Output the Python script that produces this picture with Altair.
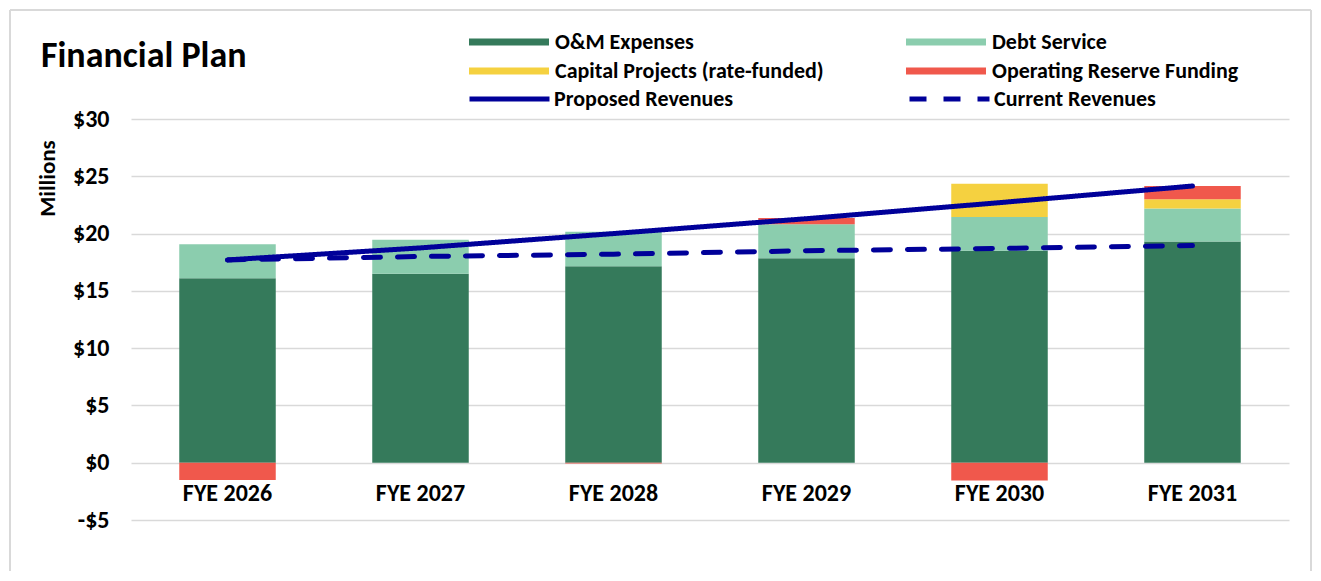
import altair as alt
import pandas as pd

years = ["FYE 2026", "FYE 2027", "FYE 2028", "FYE 2029", "FYE 2030", "FYE 2031"]
om_expenses = [16.1, 16.5, 17.15, 17.85, 18.5, 19.3]
debt_service = [2.97, 2.95, 3.0, 2.97, 2.95, 2.88]
capital_projects = [0.0, 0.0, 0.0, 0.0, 2.9, 0.82]
reserve_funding = [-1.5, 0.0, -0.06, 0.55, -1.55, 1.15]
proposed_revenues = [17.7, 18.75, 20.0, 21.3, 22.7, 24.15]
current_revenues = [17.7, 18.0, 18.2, 18.5, 18.7, 18.95]

components = ["O&M Expenses", "Debt Service", "Capital Projects (rate-funded)", "Operating Reserve Funding"]
component_colors = ["#357A5B", "#8BCDAE", "#F5D140", "#F0584C"]
series_names = ["Proposed Revenues", "Current Revenues"]

FONT = "Carlito, Lato, sans-serif"
NAVY = "#000099"
GRID = "#D9D9D9"

rows = []
for comp_i, (comp, vals) in enumerate(zip(components, [om_expenses, debt_service, capital_projects, reserve_funding])):
    for y, v in zip(years, vals):
        rows.append({"FYE": y, "Component": comp, "Value": v, "ord": comp_i})
bar_df = pd.DataFrame(rows)

lrows = []
for s, vals in zip(series_names, [proposed_revenues, current_revenues]):
    for y, v in zip(years, vals):
        lrows.append({"FYE": y, "Series": s, "Value": v})
line_df = pd.DataFrame(lrows)

W, H = 1158, 401
zero_from_bottom = H * 5 / 35

x_enc = alt.X(
    "FYE:N", sort=years,
    scale=alt.Scale(paddingInner=0.5, paddingOuter=0.25),
    axis=alt.Axis(title=None, labelAngle=0, domain=False, ticks=False, tickSize=0,
                  offset=-zero_from_bottom, labelPadding=31, labelBaseline="middle",
                  labelFont=FONT, labelFontSize=24, labelFontWeight="bold", labelColor="#000000"),
)
y_scale = alt.Scale(domain=[-5, 30], nice=False)

bars = alt.Chart(bar_df).mark_bar().encode(
    x=x_enc,
    y=alt.Y("Value:Q", stack="zero", scale=y_scale,
            axis=alt.Axis(values=list(range(-5, 31, 5)),
                          labelExpr="datum.value < 0 ? '-$' + abs(datum.value) : '$' + datum.value",
                          title="Millions", titleFont=FONT, titleFontSize=23, titleFontWeight="bold",
                          titleColor="#000000", titleAngle=-90, titleX=-84, titleY=59,
                          titleAlign="center", titleBaseline="middle",
                          domain=False, ticks=False, tickSize=0, labelPadding=22,
                          labelFont=FONT, labelFontSize=24, labelFontWeight="bold", labelColor="#000000",
                          gridColor=GRID, gridWidth=1.5)),
    color=alt.Color("Component:N", scale=alt.Scale(domain=components, range=component_colors),
                    legend=alt.Legend(orient="none", legendX=338, legendY=-88, columns=2,
                                      direction="horizontal",
                                      columnPadding=82, rowPadding=7, title=None,
                                      symbolType="M-1,-0.09H1V0.09H-1Z", symbolSize=6400,
                                      symbolStrokeWidth=0, clipHeight=22, labelOffset=6,
                                      labelLimit=500,
                                      labelFont=FONT, labelFontSize=22, labelFontWeight="bold",
                                      labelColor="#000000")),
    order=alt.Order("ord:Q", sort="ascending"),
)

lines = alt.Chart(line_df).mark_line(color=NAVY, strokeWidth=5, strokeCap="round").encode(
    x=alt.X("FYE:N", sort=years),
    y=alt.Y("Value:Q", scale=y_scale),
    strokeDash=alt.StrokeDash("Series:N", scale=alt.Scale(domain=series_names, range=[[1, 0], [17, 17]]),
                              legend=alt.Legend(orient="none", legendX=336, legendY=-31, columns=2,
                                                direction="horizontal",
                                                columnPadding=173, title=None, symbolType="stroke",
                                                symbolSize=6400, symbolStrokeColor=NAVY,
                                                symbolStrokeWidth=5, clipHeight=22, labelOffset=2,
                                                labelLimit=500,
                                                labelFont=FONT, labelFontSize=22, labelFontWeight="bold",
                                                labelColor="#000000")),
)

one = alt.Data(values=[{"k": 1}])
title = alt.Chart(one).mark_text(text="Financial Plan", font=FONT, fontSize=36, fontWeight="bold",
                                 align="left", baseline="middle", color="#000000").encode(
    x=alt.value(-90), y=alt.value(-63))

frame_left = alt.Chart(one).mark_rule(color=GRID, strokeWidth=2).encode(
    x=alt.value(-121), y=alt.value(-109), y2=alt.value(452))
frame_right = alt.Chart(one).mark_rule(color=GRID, strokeWidth=2).encode(
    x=alt.value(1180), y=alt.value(-109), y2=alt.value(452))
frame_top = alt.Chart(one).mark_rule(color=GRID, strokeWidth=2).encode(
    x=alt.value(-121), x2=alt.value(1180), y=alt.value(-109))

chart = alt.layer(bars, lines, title, frame_left, frame_right, frame_top).resolve_scale(
    strokeDash="independent"
).properties(
    width=W, height=H, padding={"left": 1, "top": 1, "right": 1, "bottom": 1}
).configure(background="#FFFFFF").configure_view(stroke=None)

chart.save("out.html", embed_options={"renderer": "svg", "actions": False})
